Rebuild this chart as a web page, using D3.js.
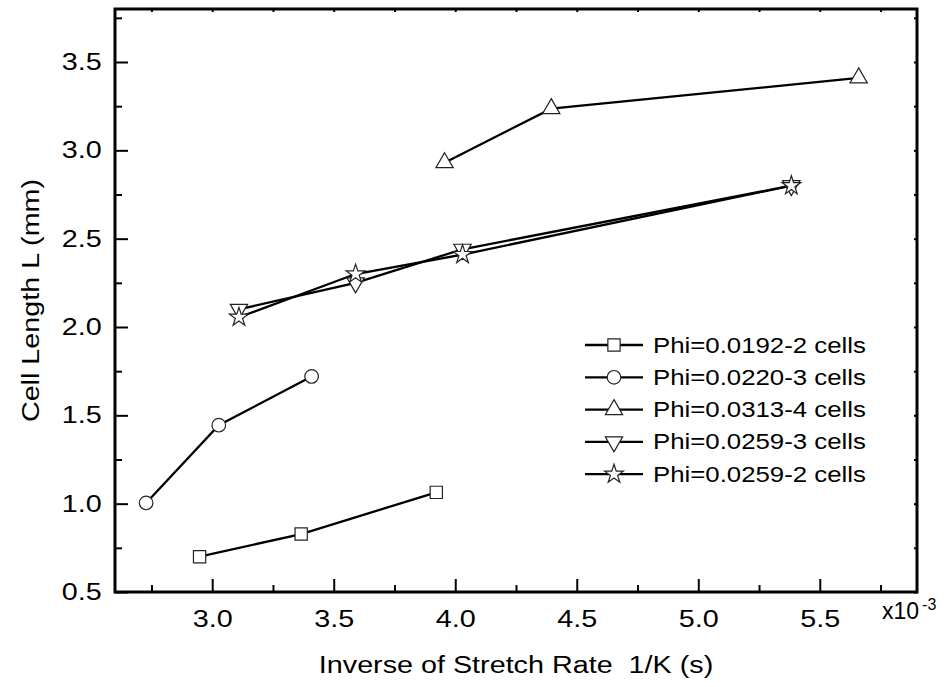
<!DOCTYPE html>
<html>
<head>
<meta charset="utf-8">
<script src="https://cdn.jsdelivr.net/npm/d3@7"></script>
<style>
  html, body { margin: 0; padding: 0; background: #fff; }
  text { font-family: "Liberation Sans", Arial, sans-serif; fill: #000; white-space: pre; }
</style>
</head>
<body>
<div id="chart"></div>
<script>
// data (x in 1e-3 s, y in mm)
const xMajor = [3.0, 3.5, 4.0, 4.5, 5.0, 5.5];
const xMinor = [2.75, 3.25, 3.75, 4.25, 4.75, 5.25, 5.75];
const yMajor = [0.5, 1.0, 1.5, 2.0, 2.5, 3.0, 3.5];
const yMinor = [0.75, 1.25, 1.75, 2.25, 2.75, 3.25, 3.75];

const seriesNames = ['Phi=0.0192-2 cells', 'Phi=0.0220-3 cells', 'Phi=0.0313-4 cells', 'Phi=0.0259-3 cells', 'Phi=0.0259-2 cells'];
const seriesShapes = ['square', 'circle', 'up', 'down', 'star'];

const phi0192x = [2.948, 3.366, 3.922];
const phi0192y = [0.70, 0.828, 1.064];
const phi0220x = [2.728, 3.027, 3.409];
const phi0220y = [1.004, 1.444, 1.72];
const phi0313x = [3.956, 4.395, 5.66];
const phi0313y = [2.93, 3.236, 3.41];
const phi0259_3x = [3.11, 3.59, 4.03, 5.383];
const phi0259_3y = [2.10, 2.25, 2.44, 2.80];
const phi0259_2x = [3.11, 3.59, 4.03, 5.383];
const phi0259_2y = [2.055, 2.30, 2.41, 2.80];

const xs = [phi0192x, phi0220x, phi0313x, phi0259_3x, phi0259_2x];
const ys = [phi0192y, phi0220y, phi0313y, phi0259_3y, phi0259_2y];
const series = seriesNames.map((name, i) => ({
  name,
  shape: seriesShapes[i],
  points: xs[i].map((x, j) => ({ x, y: ys[i][j] }))
}));

const width = 944, height = 687;
const margin = { left: 115, top: 9, right: 27, bottom: 95 };
const plotW = width - margin.left - margin.right;
const plotH = height - margin.top - margin.bottom;
const fs = 23;
const sx = 1.25;   // the original font is drawn wide

const x = d3.scaleLinear().domain([2.6, 5.9]).range([0, plotW]);
const y = d3.scaleLinear().domain([0.5, 3.8]).range([plotH, 0]);

const svg = d3.select('#chart')
  .append('svg')
  .attr('width', width)
  .attr('height', height);

const graph = svg.append('g')
  .attr('transform', `translate(${margin.left}, ${margin.top})`);

// symbols
const shapeSym = {
  square: d3.symbol(d3.symbolSquare, 150),
  circle: d3.symbol(d3.symbolCircle, 145),
  up: d3.symbol(d3.symbolTriangle, 130),
  down: d3.symbol(d3.symbolTriangle, 130),
  star: d3.symbol(d3.symbolStar, 110)
};
const shapeRot = s => s === 'down' ? ' rotate(180)' : '';

// axes: ticks point inside
const axisStyle = g => {
  g.select('.domain').remove();
  g.selectAll('line').attr('stroke', '#000').attr('stroke-width', 2);
  g.selectAll('text').attr('font-size', fs).attr('transform', `scale(${sx}, 1)`);
};

graph.append('g')
  .attr('transform', `translate(0, ${plotH})`)
  .call(d3.axisBottom(x).tickValues(xMajor).tickSize(-13).tickSizeOuter(0).tickPadding(19).tickFormat(d3.format('.1f')))
  .call(axisStyle);
graph.append('g')
  .attr('transform', `translate(0, ${plotH})`)
  .call(d3.axisBottom(x).tickValues(xMinor).tickSize(-7).tickSizeOuter(0).tickFormat(''))
  .call(axisStyle);
graph.append('g')
  .call(d3.axisLeft(y).tickValues(yMajor).tickSize(-13).tickSizeOuter(0).tickPadding(13.3 / sx).tickFormat(d3.format('.1f')))
  .call(axisStyle);
graph.append('g')
  .call(d3.axisLeft(y).tickValues(yMinor).tickSize(-7).tickSizeOuter(0).tickFormat(''))
  .call(axisStyle);
// top and right: tiny inner ticks
graph.append('g')
  .call(d3.axisTop(x).tickValues(xMajor.concat(xMinor)).tickSize(-3).tickSizeOuter(0).tickFormat(''))
  .call(axisStyle);
graph.append('g')
  .attr('transform', `translate(${plotW}, 0)`)
  .call(d3.axisRight(y).tickValues(yMajor.concat(yMinor)).tickSize(-3).tickSizeOuter(0).tickFormat(''))
  .call(axisStyle);

graph.append('rect')
  .attr('width', plotW)
  .attr('height', plotH)
  .attr('fill', 'none')
  .attr('stroke', '#000')
  .attr('stroke-width', 3);

// lines then markers
const line = d3.line().x(d => x(d.x)).y(d => y(d.y));

graph.selectAll('.series-line')
  .data(series)
  .join('path')
  .attr('class', 'series-line')
  .attr('d', d => line(d.points))
  .attr('fill', 'none')
  .attr('stroke', '#000')
  .attr('stroke-width', 2.3);

series.forEach(s => {
  graph.append('g')
    .selectAll('path')
    .data(s.points)
    .join('path')
    .attr('d', shapeSym[s.shape])
    .attr('transform', d => `translate(${x(d.x)}, ${y(d.y)})${shapeRot(s.shape)}`)
    .attr('fill', '#fff')
    .attr('stroke', '#222')
    .attr('stroke-width', 1.2);
});

// exponent label
const expo = svg.append('text')
  .attr('x', 882)
  .attr('y', 619)
  .attr('font-size', fs)
  .text('x10');
expo.append('tspan')
  .attr('font-size', 16)
  .attr('dx', 3)
  .attr('dy', -9)
  .text('-3');

// axis titles
svg.append('text')
  .attr('transform', `translate(${margin.left + plotW / 2}, 673) scale(${sx}, 1)`)
  .attr('text-anchor', 'middle')
  .attr('font-size', fs)
  .text('Inverse of Stretch Rate  1/K (s)');

svg.append('text')
  .attr('transform', `translate(39, ${margin.top + plotH / 2}) rotate(-90) scale(${sx}, 1)`)
  .attr('text-anchor', 'middle')
  .attr('font-size', fs)
  .text('Cell Length L (mm)');

// legend
const legend = svg.append('g')
  .attr('transform', 'translate(585, 345)')
  .selectAll('g')
  .data(series)
  .join('g')
  .attr('transform', (d, i) => `translate(0, ${i * 32.3})`);

legend.append('line')
  .attr('x1', 0)
  .attr('x2', 58)
  .attr('stroke', '#000')
  .attr('stroke-width', 2.3);

legend.append('path')
  .attr('d', d => shapeSym[d.shape]())
  .attr('transform', d => `translate(29, 0)${shapeRot(d.shape)}`)
  .attr('fill', '#fff')
  .attr('stroke', '#222')
  .attr('stroke-width', 1.2);

legend.append('text')
  .attr('transform', 'translate(68, 0) scale(1.2, 1)')
  .attr('dy', '0.35em')
  .attr('font-size', 21.5)
  .text(d => d.name);
</script>
</body>
</html>
